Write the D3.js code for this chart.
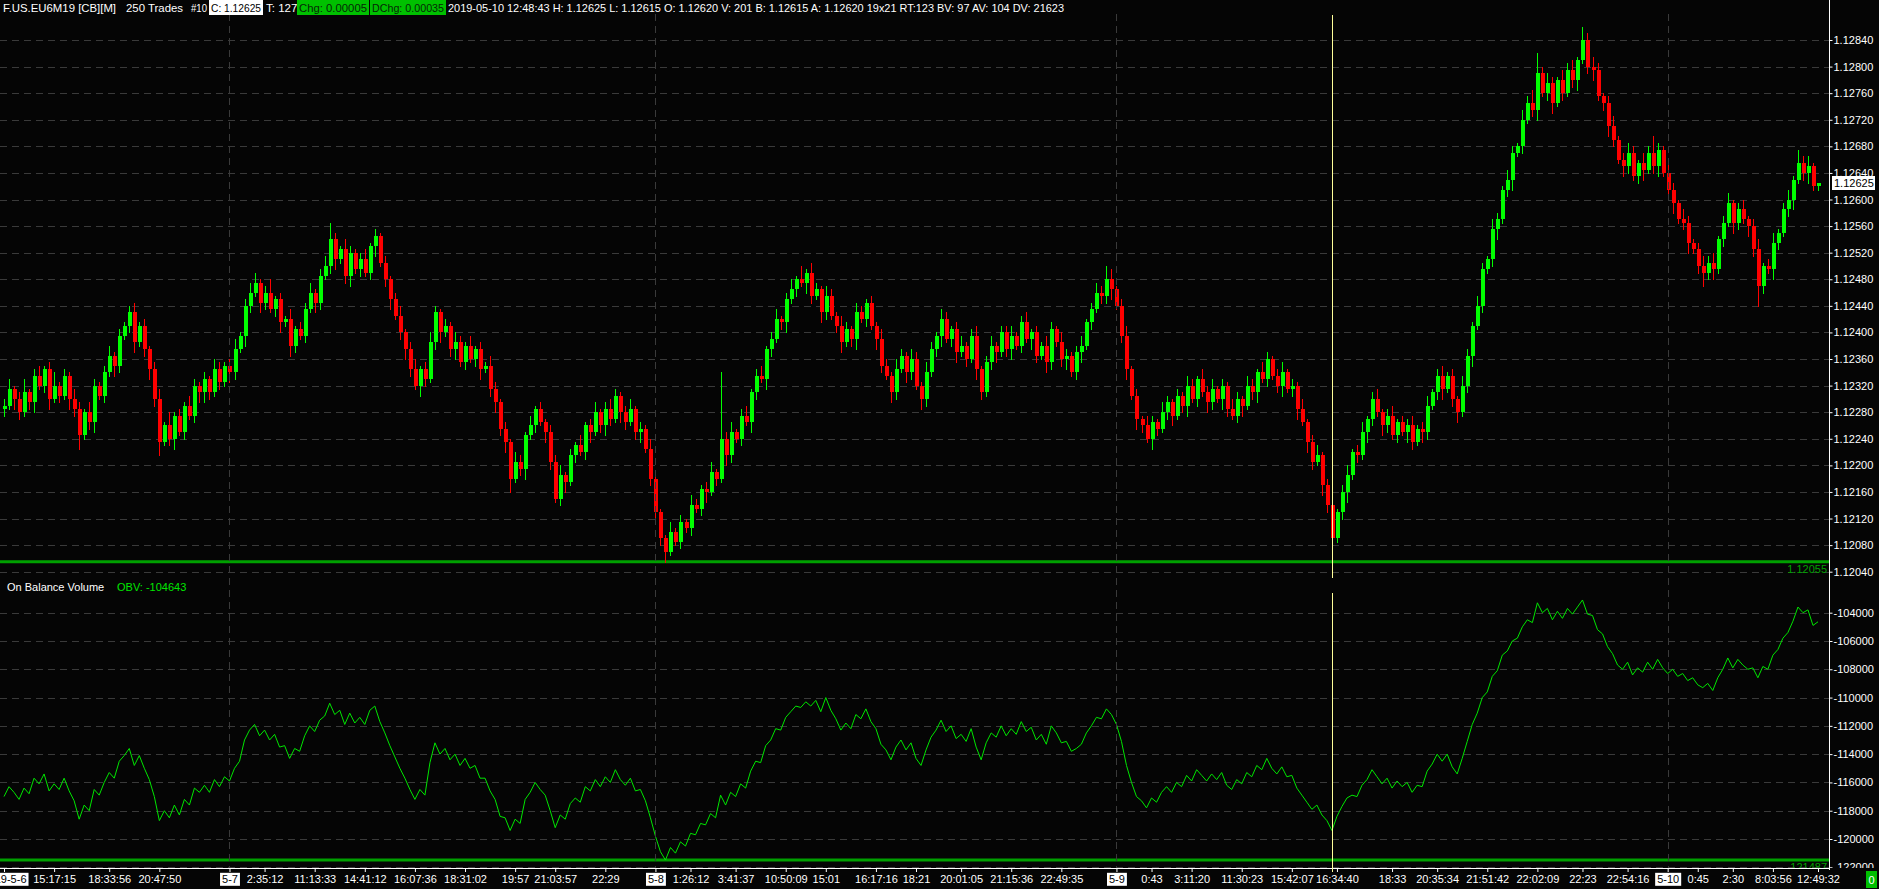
<!DOCTYPE html>
<html><head><meta charset="utf-8">
<script src="https://cdn.jsdelivr.net/npm/d3@7"></script>
<style>
html,body{margin:0;padding:0;background:#050505;overflow:hidden}
svg{display:block}
text{font-family:"Liberation Sans",Arial,sans-serif;font-size:11px}
</style></head><body>
<svg id="c" width="1879" height="889"></svg>
<script>
// ---------------- DATA ----------------
const priceBase = 1.12;            // price values below are in 0.00001 above 1.12000
const firstOpen = 285;
const closeUnits = [
290,315,300,280,310,295,335,320,345,300,320,305,335,300,285,245,280,265,320,305,
340,365,350,395,410,430,385,410,375,345,300,235,260,240,275,250,290,275,320,310,
330,310,345,325,350,340,375,395,440,460,475,445,460,435,450,415,420,380,405,395,
435,460,445,485,500,540,510,525,485,520,495,510,490,530,545,505,480,450,425,400,
375,345,320,345,330,385,430,400,410,375,385,355,380,360,375,345,350,315,295,255,
235,180,205,195,245,260,285,265,250,205,150,185,175,215,230,220,260,250,280,260,
285,270,305,280,265,285,250,255,225,180,130,90,70,100,85,115,105,140,135,165,
160,190,180,240,215,250,240,275,265,310,335,330,375,390,420,415,450,465,480,475,
490,455,465,430,455,425,410,385,405,390,430,420,445,410,390,350,335,310,345,365,
340,360,320,300,340,375,395,420,390,405,370,380,360,395,345,310,355,380,370,400,
375,395,380,415,390,400,365,380,355,405,385,360,365,340,370,380,415,435,460,455,
480,465,440,395,345,305,270,260,240,265,255,280,295,275,305,290,320,300,330,310,
295,315,300,320,285,275,300,290,320,310,340,330,360,335,320,340,315,320,285,265,
235,205,215,170,140,90,130,160,185,220,215,250,270,300,280,260,275,245,265,250,
260,235,255,250,290,310,335,315,335,300,280,320,365,410,440,495,510,555,570,615,
630,670,680,720,745,735,790,760,775,745,780,760,795,780,810,840,800,795,755,745,
710,690,660,650,670,635,655,645,670,650,675,640,615,595,570,565,535,525,500,490,
505,495,540,565,595,565,585,570,560,525,470,500,495,535,550,585,600,630,655,640,650,620,625];
const wickUp = [
10,15,5,10,20,5,10,15,5,10,20,5,10,5,15,10,5,15,10,5,
10,15,5,10,5,10,15,5,10,5,10,15,5,20,5,10,5,15,10,5,
10,5,15,10,5,10,15,5,10,15,15,5,10,20,5,10,5,15,5,10,
10,15,5,10,15,25,10,5,15,10,5,10,15,5,10,5,10,5,10,15,
5,10,15,5,10,15,10,5,10,5,15,10,5,15,5,10,5,15,10,5,
10,5,15,10,5,15,5,10,5,10,10,15,5,10,5,15,5,10,15,5,
10,15,10,5,10,15,5,10,5,15,10,5,5,15,5,10,5,15,10,5,
10,15,5,100,10,15,5,10,15,5,10,15,5,10,15,5,10,15,5,20,
5,15,10,5,15,10,5,15,10,5,15,10,5,10,5,15,10,5,15,10,
5,15,10,5,15,10,5,15,10,5,10,15,5,10,15,5,10,15,5,10,
10,15,5,10,15,5,10,5,15,10,5,15,10,5,10,15,5,10,15,10,
20,15,5,10,15,5,10,5,15,10,5,15,10,5,10,5,15,10,5,15,
10,15,5,10,5,15,10,5,15,10,5,15,10,5,10,15,5,10,5,15,
5,10,15,5,10,15,5,10,15,5,10,15,5,10,15,5,10,15,5,10,
10,15,5,10,15,5,10,15,5,10,5,15,10,5,15,10,5,15,10,5,
15,10,5,15,10,20,30,10,15,10,5,15,10,15,5,20,10,15,10,5,
10,15,5,10,15,10,5,15,10,25,10,5,15,10,5,15,10,5,10,15,
10,15,5,10,15,5,10,15,5,10,15,5,10,15,5,10,15,5,20,10,15,5,0];
const wickDn = [
10,5,15,10,5,10,15,5,10,15,5,10,5,15,10,20,5,10,15,5,
10,5,15,10,5,10,15,5,10,15,10,20,5,10,15,5,10,5,10,15,
15,10,5,10,5,15,10,5,15,10,5,15,10,5,10,15,5,15,10,5,
10,5,15,10,5,10,15,5,10,15,5,10,5,10,15,5,10,15,5,10,
15,10,5,15,10,5,10,15,5,10,15,5,10,5,10,15,5,10,15,10,
15,20,5,10,15,5,10,5,15,10,5,10,15,5,10,5,10,15,5,10,
15,10,5,15,10,5,10,15,5,10,15,10,15,5,5,10,5,10,5,10,
15,5,10,5,15,10,5,10,5,15,10,5,15,10,5,10,15,5,10,5,
15,10,5,15,10,5,10,15,5,10,15,5,10,5,15,10,5,15,10,5,
15,10,5,15,10,5,10,15,5,10,15,5,10,5,15,10,5,10,15,5,
10,15,5,10,5,15,10,5,15,10,5,10,15,5,10,15,5,10,5,10,
10,15,5,10,15,5,15,10,5,15,10,5,10,15,5,10,15,5,10,5,
15,10,5,15,10,5,10,15,5,10,15,5,10,5,10,15,5,10,15,5,
15,10,5,15,10,10,5,10,15,5,10,5,15,10,5,15,10,5,10,5,
15,10,5,15,10,5,10,15,5,10,15,5,10,15,5,10,5,10,15,5,
10,15,5,10,5,10,15,5,10,15,5,10,5,10,15,5,10,15,5,10,
15,10,5,15,10,5,10,15,5,10,15,5,10,15,5,10,15,5,10,20,
10,15,5,10,5,15,10,5,15,10,30,10,5,15,10,5,10,15,5,10,15,5,5];
const obvHundreds = [
-1170,-1163,-1167,-1172,-1164,-1168,-1157,-1161,-1154,-1166,-1161,-1165,-1157,-1166,-1173,-1186,-1176,-1180,-1165,-1169,
-1160,-1153,-1157,-1145,-1141,-1136,-1148,-1141,-1150,-1158,-1170,-1187,-1180,-1185,-1176,-1183,-1172,-1176,-1164,-1167,
-1162,-1167,-1158,-1163,-1156,-1159,-1150,-1145,-1130,-1123,-1119,-1127,-1123,-1130,-1126,-1135,-1134,-1143,-1136,-1138,
-1127,-1120,-1124,-1116,-1113,-1104,-1112,-1109,-1119,-1111,-1118,-1114,-1119,-1109,-1106,-1117,-1125,-1134,-1142,-1150,
-1157,-1165,-1172,-1165,-1169,-1146,-1132,-1140,-1136,-1144,-1140,-1148,-1143,-1150,-1148,-1157,-1157,-1166,-1172,-1184,
-1185,-1194,-1186,-1189,-1172,-1167,-1160,-1165,-1169,-1180,-1192,-1183,-1186,-1175,-1171,-1174,-1163,-1166,-1158,-1163,
-1156,-1160,-1151,-1158,-1162,-1157,-1166,-1165,-1173,-1185,-1198,-1209,-1214.87,-1206,-1210,-1202,-1205,-1196,-1197,-1189,
-1190,-1182,-1185,-1169,-1176,-1167,-1170,-1161,-1164,-1152,-1145,-1146,-1134,-1130,-1122,-1123,-1114,-1110,-1106,-1107,
-1103,-1106,-1102,-1110,-1100,-1109,-1115,-1123,-1118,-1122,-1112,-1115,-1108,-1117,-1122,-1133,-1137,-1144,-1135,-1130,
-1137,-1132,-1143,-1148,-1137,-1128,-1123,-1116,-1124,-1120,-1129,-1126,-1131,-1122,-1135,-1144,-1132,-1125,-1128,-1120,
-1127,-1122,-1126,-1117,-1124,-1121,-1130,-1126,-1133,-1120,-1125,-1132,-1131,-1138,-1136,-1133,-1125,-1120,-1114,-1115,
-1108,-1112,-1119,-1131,-1148,-1160,-1170,-1173,-1178,-1171,-1174,-1167,-1163,-1167,-1160,-1163,-1155,-1159,-1151,-1155,
-1159,-1154,-1158,-1153,-1162,-1165,-1158,-1161,-1153,-1156,-1148,-1151,-1143,-1150,-1154,-1149,-1156,-1155,-1164,-1169,
-1174,-1179,-1176,-1183,-1187,-1194,-1184,-1177,-1171,-1169,-1170,-1162,-1158,-1151,-1156,-1161,-1157,-1164,-1159,-1163,
-1160,-1167,-1162,-1163,-1152,-1147,-1140,-1145,-1140,-1149,-1154,-1143,-1131,-1119,-1111,-1100,-1096,-1085,-1081,-1070,
-1067,-1060,-1058,-1050,-1045,-1047,-1033,-1040,-1037,-1045,-1039,-1044,-1037,-1041,-1036,-1031,-1041,-1042,-1052,-1055,
-1064,-1069,-1077,-1080,-1075,-1084,-1079,-1082,-1075,-1080,-1073,-1079,-1083,-1080,-1085,-1083,-1088,-1086,-1091,-1093,
-1090,-1095,-1086,-1080,-1072,-1079,-1073,-1077,-1080,-1079,-1086,-1078,-1080,-1070,-1066,-1058,-1054,-1046,-1036,-1040,-1038,-1049,-1046.43];
const priceTicks = [1.12040,1.12080,1.12120,1.12160,1.12200,1.12240,1.12280,1.12320,1.12360,1.12400,1.12440,1.12480,1.12520,1.12560,1.12600,1.12640,1.12680,1.12720,1.12760,1.12800,1.12840];
const obvTicks = [-122000,-120000,-118000,-116000,-114000,-112000,-110000,-108000,-106000,-104000];
const timeLabels = ["2019-5-6","15:17:15","18:33:56","20:47:50","5-7","2:35:12","11:13:33","14:41:12","16:07:36","18:31:02","19:57","21:03:57","22:29",
  "5-8","1:26:12","3:41:37","10:50:09","15:01","16:17:16","18:21","20:01:05","21:15:36","22:49:35",
  "5-9","0:43","3:11:20","11:30:23","15:42:07","16:34:40","18:33","20:35:34","21:51:42","22:02:09","22:23","22:54:16",
  "5-10","0:45","2:30","8:03:56","12:49:32"];
const timeLabelBars = [0,10,21,31,45,52,62,72,82,92,102,110,120,130,137,146,156,164,174,182,191,201,211,222,229,237,247,257,266,277,286,296,306,315,324,332,338,345,353,362];
const dayStartBars = [45,130,222,332];
const cursorBar = 265;
const headerTexts = ["F.US.EU6M19 [CB][M]","250 Trades","#10","C: 1.12625","T: 127","Chg: 0.00005","DChg: 0.00035",
  "2019-05-10 12:48:43 H: 1.12625 L: 1.12615 O: 1.12620 V: 201 B: 1.12615 A: 1.12620 19x21 RT:123 BV: 97 AV: 104 DV: 21623"];
const studyTitle = "On Balance Volume";

// ---------------- LAYOUT ----------------
const W = 1879, H = 889;
const L = {axisX:1829.5, pTop:14, pBot:578, oTop:580, oBot:868, xAxisY:868};
const COL = {bg:"#050505", grid:"#3a3a3a", up:"#00ff00", dn:"#ff0000", obv:"#00e600", low:"#00a000", txt:"#ffffff", box:"#00c000", cursor:"#ffff99"};

const N = closeUnits.length;
const bars = closeUnits.map((c,i)=>{
  const o = i===0 ? firstOpen : closeUnits[i-1];
  return {i, o:priceBase+o/1e5, c:priceBase+c/1e5,
          h:priceBase+(Math.max(o,c)+wickUp[i])/1e5,
          l:priceBase+(Math.min(o,c)-wickDn[i])/1e5};
});
const obv = obvHundreds.map(v=>v*100);

const x = d3.scaleLinear().domain([0,N-1]).range([4,1818]);
const yP = d3.scaleLinear().domain([1.1204,1.1284]).range([571.7,40]);
const yO = d3.scaleLinear().domain([-120000,-104000]).range([839,612.7]);

const svg = d3.select("#c");
svg.append("rect").attr("width",W).attr("height",H).attr("fill",COL.bg);
const defs = svg.append("defs");
defs.append("clipPath").attr("id","clipP").append("rect").attr("x",0).attr("y",L.pTop).attr("width",L.axisX).attr("height",L.pBot-L.pTop);
defs.append("clipPath").attr("id","clipO").append("rect").attr("x",0).attr("y",L.oTop).attr("width",L.axisX).attr("height",L.oBot-L.oTop);
defs.append("clipPath").attr("id","clipOA").append("rect").attr("x",L.axisX).attr("y",L.oTop).attr("width",W-L.axisX).attr("height",L.oBot-L.oTop);

const crisp = v => Math.round(v)+0.5;

// grid
const gP = svg.append("g").attr("clip-path","url(#clipP)");
const gO = svg.append("g").attr("clip-path","url(#clipO)");
gP.selectAll("line.hg").data(priceTicks).join("line").attr("class","hg")
  .attr("x1",0).attr("x2",L.axisX).attr("y1",d=>crisp(yP(d))).attr("y2",d=>crisp(yP(d)))
  .attr("stroke",COL.grid).attr("stroke-dasharray","7,5");
gO.selectAll("line.hg").data(obvTicks).join("line").attr("class","hg")
  .attr("x1",0).attr("x2",L.axisX).attr("y1",d=>crisp(yO(d))).attr("y2",d=>crisp(yO(d)))
  .attr("stroke",COL.grid).attr("stroke-dasharray","7,5");
svg.selectAll("line.vg").data(dayStartBars).join("line").attr("class","vg")
  .attr("x1",d=>crisp(x(d))).attr("x2",d=>crisp(x(d))).attr("y1",L.pTop).attr("y2",L.oBot)
  .attr("stroke",COL.grid).attr("stroke-dasharray","7,5");

// low line price
const minLow = d3.min(bars,d=>d.l);
gP.append("line").attr("x1",0).attr("x2",L.axisX).attr("y1",yP(minLow)).attr("y2",yP(minLow))
  .attr("stroke",COL.low).attr("stroke-width",3);

// candles
const colr = d => d.c>=d.o ? COL.up : COL.dn;
gP.selectAll("line.wick").data(bars).join("line").attr("class","wick")
  .attr("x1",d=>Math.round(x(d.i))+0.5).attr("x2",d=>Math.round(x(d.i))+0.5)
  .attr("y1",d=>Math.round(yP(d.h))).attr("y2",d=>Math.round(yP(d.l))+1)
  .attr("stroke",colr).attr("stroke-width",1);
gP.selectAll("rect.body").data(bars).join("rect").attr("class","body")
  .attr("x",d=>Math.round(x(d.i))-1).attr("width",4)
  .attr("y",d=>Math.round(yP(Math.max(d.o,d.c))))
  .attr("height",d=>Math.max(1,Math.round(yP(Math.min(d.o,d.c)))-Math.round(yP(Math.max(d.o,d.c)))))
  .attr("fill",colr);

gP.append("text").attr("x",1827).attr("y",573).attr("text-anchor","end").attr("fill",COL.low)
  .text(d3.format(".5f")(minLow));

// OBV
const minObv = d3.min(obv);
gO.append("line").attr("x1",0).attr("x2",L.axisX).attr("y1",yO(minObv)).attr("y2",yO(minObv))
  .attr("stroke",COL.low).attr("stroke-width",3);
gO.append("path").datum(obv).attr("fill","none").attr("stroke",COL.obv).attr("stroke-width",1)
  .attr("d",d3.line().x((d,i)=>x(i)).y(d=>yO(d)));
gO.append("text").attr("x",1827).attr("y",871).attr("text-anchor","end").attr("fill",COL.low)
  .text(String(Math.round(minObv)));

// cursor
const cx = crisp(x(cursorBar));
svg.append("line").attr("x1",cx).attr("x2",cx).attr("y1",15).attr("y2",L.pBot).attr("stroke",COL.cursor);
svg.append("line").attr("x1",cx).attr("x2",cx).attr("y1",593).attr("y2",L.oBot+4).attr("stroke",COL.cursor);

// titles
svg.append("text").attr("x",7).attr("y",591).attr("fill",COL.txt).text(studyTitle);
svg.append("text").attr("x",117).attr("y",591).attr("fill",COL.obv).text("OBV: "+Math.round(obv[N-1]));

// right axes
const gYP = svg.append("g").attr("transform",`translate(${L.axisX},0)`)
  .call(d3.axisRight(yP).tickValues(priceTicks).tickFormat(d3.format(".5f")).tickSize(3).tickPadding(1).tickSizeOuter(0));
const gYO = svg.append("g").attr("clip-path","url(#clipOA)").append("g").attr("transform",`translate(${L.axisX},0)`)
  .call(d3.axisRight(yO).tickValues(obvTicks).tickFormat(d=>String(d)).tickSize(3).tickPadding(1).tickSizeOuter(0));
[gYP,gYO].forEach(g=>{
  g.select(".domain").remove();
  g.selectAll(".tick line").attr("stroke",COL.txt);
  g.selectAll(".tick text").attr("fill",COL.txt).style("font-size","11px").style("font-family","Liberation Sans, Arial, sans-serif");
});
svg.append("line").attr("x1",L.axisX).attr("x2",L.axisX).attr("y1",0).attr("y2",L.xAxisY+2).attr("stroke",COL.txt);

// last price marker
const lastC = bars[N-1].c;
const gLp = svg.append("g").attr("transform",`translate(${L.axisX+2.5},${Math.round(yP(lastC))-7})`);
gLp.append("rect").attr("width",43).attr("height",14).attr("fill","#ffffff");
gLp.append("text").attr("x",2).attr("y",11).attr("fill","#000").text(d3.format(".5f")(lastC));

// bottom axis
const gX = svg.append("g").attr("transform",`translate(0,${L.xAxisY})`)
  .call(d3.axisBottom(x).tickValues(timeLabelBars).tickFormat((d,k)=>timeLabels[k]).tickSize(4).tickPadding(3).tickSizeOuter(0));
gX.select(".domain").remove();
gX.selectAll(".tick line").attr("stroke",COL.txt);
gX.selectAll(".tick text").attr("fill",COL.txt).style("font-size","11px").style("font-family","Liberation Sans, Arial, sans-serif");
gX.selectAll(".tick").each(function(d,k){
  if (!/^\d+-\d+/.test(timeLabels[k]) ) return;
  const t = d3.select(this).select("text");
  t.attr("fill","#000");
  const bb = t.node().getBBox();
  d3.select(this).insert("rect","text").attr("x",bb.x-2).attr("y",bb.y).attr("width",bb.width+4).attr("height",bb.height+1).attr("fill","#fff");
});
svg.append("line").attr("x1",0).attr("x2",L.axisX).attr("y1",L.xAxisY+0.5).attr("y2",L.xAxisY+0.5).attr("stroke",COL.txt);
svg.append("line").attr("x1",cx).attr("x2",cx).attr("y1",L.xAxisY).attr("y2",L.xAxisY+4).attr("stroke",COL.cursor);

// bottom right box
svg.append("rect").attr("x",1866).attr("y",871).attr("width",11).attr("height",17).attr("fill",COL.box);
svg.append("text").attr("x",1868.5).attr("y",884).attr("fill","#fff").text("0");

// header
const hx = [3,126,191,209,266,297,370,448];
const hLen = {0:113,1:57,2:16,3:50,5:68,6:72,7:616};
const hBox = {3:["#ffffff",54,"#000"],5:[COL.box,72,"#062806"],6:[COL.box,76,"#062806"]};
headerTexts.forEach((t,k)=>{
  if (hBox[k]) svg.append("rect").attr("x",hx[k]).attr("y",0).attr("width",hBox[k][1]).attr("height",15).attr("fill",hBox[k][0]);
  const tx = svg.append("text").attr("x",hx[k]+(hBox[k]?2:0)).attr("y",11.5).style("font-size","11.5px")
    .attr("fill",hBox[k]?hBox[k][2]:COL.txt).text(t);
  if (hLen[k]) tx.attr("textLength",hLen[k]).attr("lengthAdjust","spacingAndGlyphs");
});
</script>
</body></html>
